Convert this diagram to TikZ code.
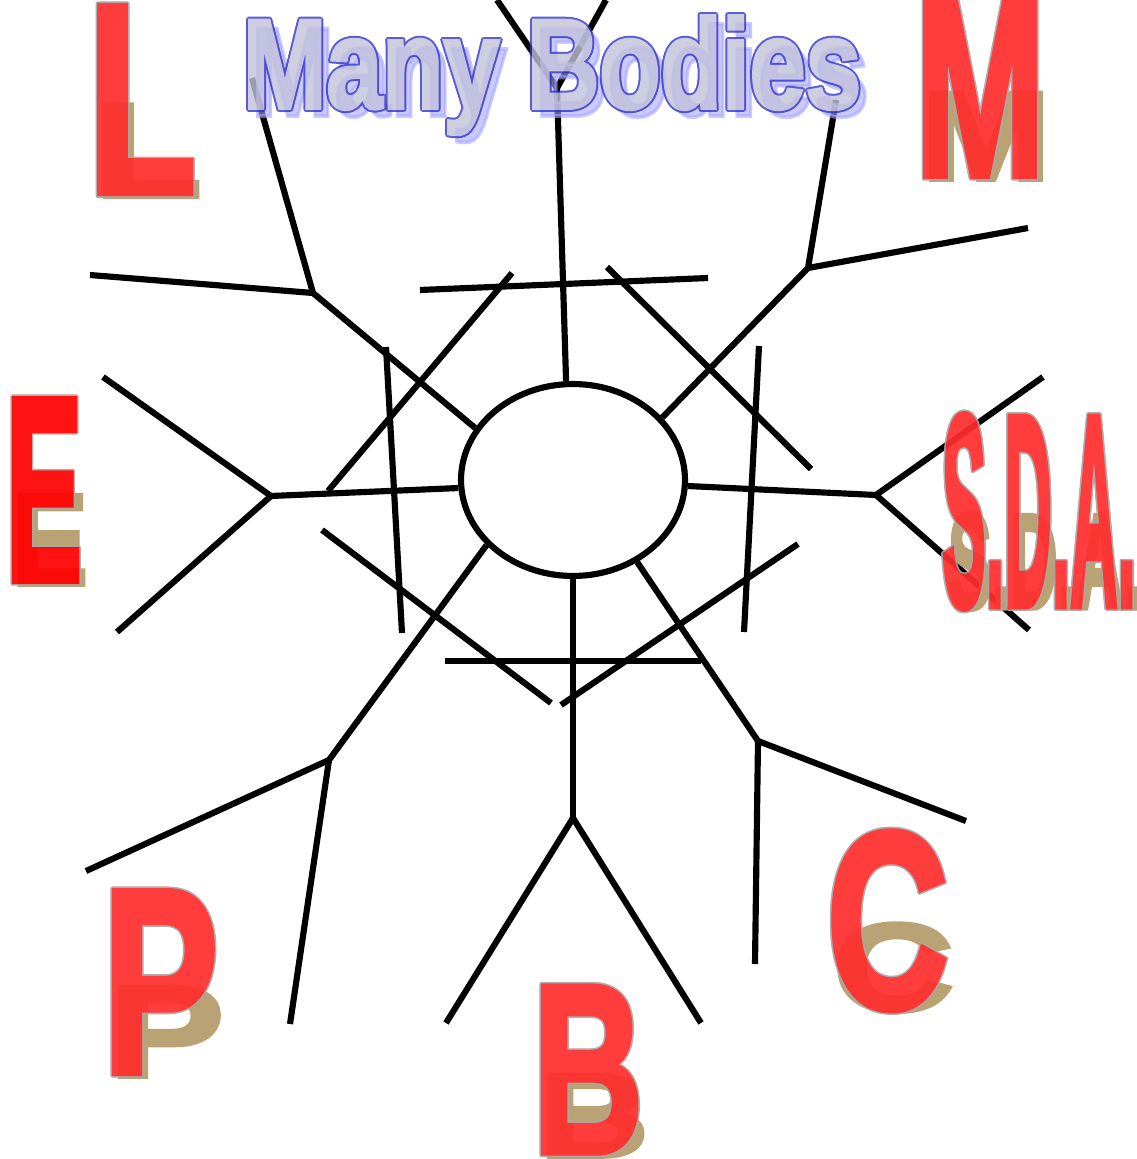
\documentclass[tikz,border=0pt]{standalone}
\usepackage{fontspec}
\usepackage{graphicx}
\usetikzlibrary{shapes.geometric}
\newfontfamily\artfont{Liberation Sans}[BoldFeatures={FakeBold=3}]
\definecolor{artRed}{HTML}{FF2E2E}
\definecolor{artPure}{HTML}{FF0000}
\definecolor{artEdge}{HTML}{A8A8A8}
\definecolor{artTan}{HTML}{B9A274}
\definecolor{titleFill}{HTML}{C2C2DA}
\definecolor{titleEdge}{HTML}{3232CC}
\definecolor{titleGlow}{HTML}{A6A6FF}
\newlength\pxu \setlength\pxu{0.02cm}
\tikzset{
  limb/.style        ={line width=3.5pt, black},
  glyph/.style       ={anchor=north west, inner sep=0pt, outer sep=0pt},
  glyphshadow/.style ={anchor=south west, inner sep=0pt, outer sep=0pt, text=artTan},
}
% letter with outline and half-height shadow: name, x, y, width, height, text, colour
\newcommand{\artletter}[7]{%
  \node[glyphshadow] (#1s) at (#2+6,#3+#5+5) {\scalebox{1}[0.5]{\resizebox{#4\pxu}{#5\pxu}{\artfont\bfseries #6}}};
  \begin{scope}[transparency group, opacity=0.93]
    \foreach \hx/\hy [count=\k] in {1.6/0,-1.6/0,0/1.6,0/-1.6,1.1/1.1,-1.1/1.1,1.1/-1.1,-1.1/-1.1}
      \node[glyph, text=artEdge] (#1e\k) at (#2+\hx,#3+\hy) {\resizebox{#4\pxu}{#5\pxu}{\artfont\bfseries #6}};
    \node[glyph, text=#7] (#1) at (#2,#3) {\resizebox{#4\pxu}{#5\pxu}{\artfont\bfseries #6}};
  \end{scope}}

\begin{document}
\begin{tikzpicture}[x=0.02cm, y=-0.02cm]
\useasboundingbox (0,0) rectangle (1136,1159);

% ---- head ----
\node[draw, ellipse, line width=3.5pt, inner sep=0pt,
      minimum width=4.48cm, minimum height=3.84cm] (head) at (573,480) {};

% ---- joints and limb ends ----
\coordinate (tj)  at (557,88);   \coordinate (tl)  at (497,0);    \coordinate (tr)  at (606,0);
\coordinate (ulj) at (313,293);  \coordinate (ula) at (90,275);   \coordinate (ulb) at (252,78);
\coordinate (urj) at (808,268);  \coordinate (ura) at (1028,228); \coordinate (urb) at (836,100);
\coordinate (lj)  at (271,496);  \coordinate (la)  at (103,377);  \coordinate (lb)  at (117,632);
\coordinate (rj)  at (876,495);  \coordinate (ra)  at (1043,377); \coordinate (rb)  at (1029,630);
\coordinate (llj) at (329,760);  \coordinate (lla) at (86,871);   \coordinate (llb) at (290,1024);
\coordinate (bj)  at (573,818);  \coordinate (bla) at (446,1023); \coordinate (blb) at (701,1023);
\coordinate (lrj) at (758,741);  \coordinate (lra) at (966,821);  \coordinate (lrb) at (755,964);

\draw[limb] (head.94)  -- (tj);  \draw[limb] (tj)  -- (tl);  \draw[limb] (tj)  -- (tr);
\draw[limb] (head.152) -- (ulj); \draw[limb] (ulj) -- (ula); \draw[limb] (ulj) -- (ulb);
\draw[limb] (head.35)  -- (urj); \draw[limb] (urj) -- (ura); \draw[limb] (urj) -- (urb);
\draw[limb] (head.184) -- (lj);  \draw[limb] (lj)  -- (la);  \draw[limb] (lj)  -- (lb);
\draw[limb] (head.357) -- (rj);  \draw[limb] (rj)  -- (ra);  \draw[limb] (rj)  -- (rb);
\draw[limb] (head.217) -- (llj); \draw[limb] (llj) -- (lla); \draw[limb] (llj) -- (llb);
\draw[limb] (head.270) -- (bj);  \draw[limb] (bj)  -- (bla); \draw[limb] (bj)  -- (blb);
\draw[limb] (head.308) -- (lrj); \draw[limb] (lrj) -- (lra); \draw[limb] (lrj) -- (lrb);

% ---- crossing strokes round the head ----
\coordinate (c1a) at (420,290); \coordinate (c1b) at (708,278);
\coordinate (c2a) at (512,273); \coordinate (c2b) at (328,491);
\coordinate (c3a) at (607,267); \coordinate (c3b) at (811,469);
\coordinate (c4a) at (386,347); \coordinate (c4b) at (402,633);
\coordinate (c5a) at (759,346); \coordinate (c5b) at (744,632);
\coordinate (c6a) at (322,530); \coordinate (c6b) at (551,703);
\coordinate (c7a) at (798,544); \coordinate (c7b) at (561,705);
\coordinate (c8a) at (445,661); \coordinate (c8b) at (701,661);
\draw[limb] (c1a) -- (c1b); \draw[limb] (c2a) -- (c2b);
\draw[limb] (c3a) -- (c3b); \draw[limb] (c4a) -- (c4b);
\draw[limb] (c5a) -- (c5b); \draw[limb] (c6a) -- (c6b);
\draw[limb] (c7a) -- (c7b); \draw[limb] (c8a) -- (c8b);

% ---- title ----
\node[glyph, text=titleGlow, opacity=0.6] (titleS) at (251,24) {\resizebox{618\pxu}{92\pxu}{\artfont\bfseries Many Bodies}};
\begin{scope}[transparency group, opacity=0.8]
  \foreach \hx/\hy [count=\k] in {2/0,-2/0,0/2,0/-2,1.4/1.4,-1.4/1.4,1.4/-1.4,-1.4/-1.4}
    \node[glyph, text=titleEdge] (titleE\k) at (243+\hx,16+\hy) {\resizebox{618\pxu}{92\pxu}{\artfont\bfseries Many Bodies}};
  \node[glyph, text=titleFill] (title) at (243,16) {\resizebox{618\pxu}{92\pxu}{\artfont\bfseries Many Bodies}};
\end{scope}

% ---- letters ----
\artletter{L}{88}{7}{108}{185}{L}{artRed}
\artletter{M}{915}{0}{130}{175}{M}{artRed}
\artletter{E}{6}{400}{76}{180}{E}{artPure}
\artletter{SDA}{942}{415}{194}{190}{S.D.A.}{artRed}
\artletter{P}{103}{892}{115}{180}{P}{artRed}
\artletter{B}{533}{987}{110}{165}{B}{artRed}
\artletter{C}{827}{832}{121}{175}{C}{artRed}
\end{tikzpicture}
\end{document}
